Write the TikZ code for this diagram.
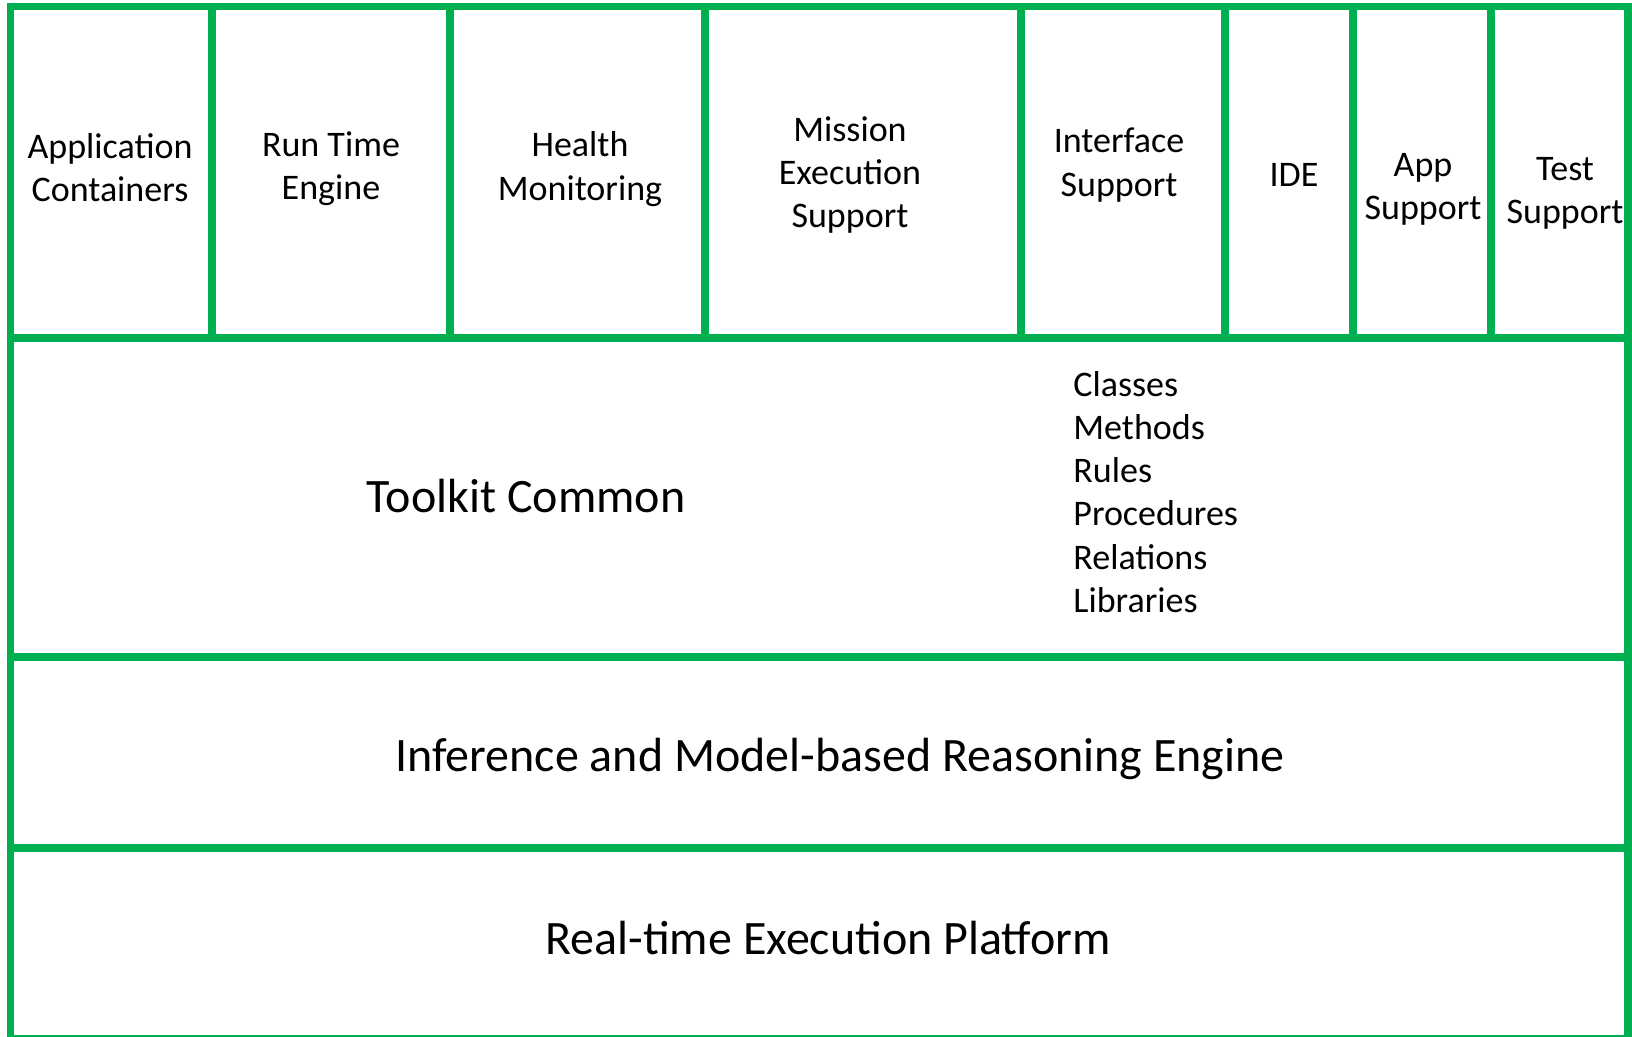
\documentclass[tikz,border=0pt]{standalone}
\usepackage{fontspec}
\setmainfont{Carlito}
\definecolor{officegreen}{HTML}{00B050}

\begin{document}
\begin{tikzpicture}[x=0.5pt,y=-0.5pt,every text node part/.style={align=center},
	frameline/.style={draw=officegreen,line width=3.75pt},
	cellfont/.style={font=\fontsize{18}{21.6}\selectfont,inner sep=0pt},
	layerfont/.style={font=\fontsize{24}{28.8}\selectfont,inner sep=0pt}]
	\useasboundingbox (0,0) rectangle (1632,1037);

				% outer frame and the layer boundaries
				\draw[frameline] (10.5,6.5) rectangle (1628,1039);
				\foreach \y in {338,657,848}
					\draw[frameline] (10.5,\y) -- (1628,\y);
				\foreach \x in {212,450,705,1021,1225,1353,1491}
					\draw[frameline] (\x,6.5) -- (\x,338);

				% top row
				\begin{scope}[every node/.style={cellfont}]
	\node (appcont) at (110,168) {Application\\Containers};
	\node (runtime) at (331,169) {Run Time\\Engine};
	\node (health) at (580,169) {Health\\Monitoring};
	\node (mission) at (850,175) {Mission\\Execution\\Support};
	\node (iface) at (1119,165) {Interface\\Support};
	\node (ide) at (1294,175) {IDE};
	\node (appsup) at (1423,189) {App\\Support};
	\node (testsup) at (1565,193) {Test\\Support};
				\end{scope}

				% lower layers
	\node[layerfont] (toolkit) at (526,496) {Toolkit Common};
	\node[cellfont,anchor=west,every text node part/.style={align=left}] (toolkitlist) at (1073,492) {Classes\\Methods\\Rules\\Procedures\\Relations\\Libraries};
	\node[layerfont] (inference) at (840,759) {Inference and Model-based Reasoning Engine};
	\node[layerfont] (realtime) at (828,938) {Real-time Execution Platform};

\end{tikzpicture}
\end{document}
